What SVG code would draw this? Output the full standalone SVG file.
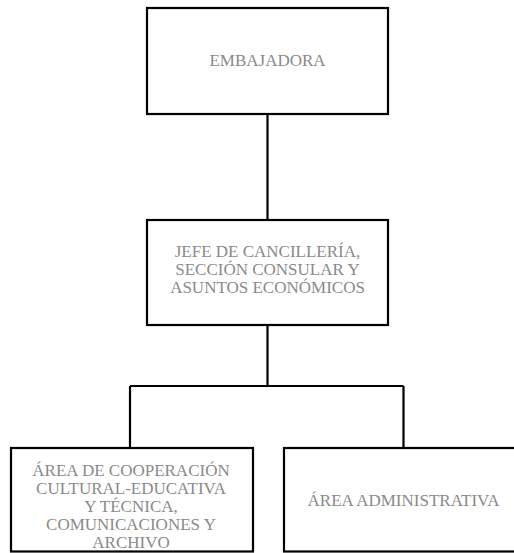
<svg xmlns="http://www.w3.org/2000/svg" width="514" height="553" viewBox="0 0 514 553">
<style>
.box{fill:#fff;stroke:#000;stroke-width:2.2}
.lbl{font-family:"Liberation Serif","Times New Roman",serif;font-size:17px;fill:#8a8a8a;text-anchor:middle}
.con{fill:none;stroke:#000;stroke-width:2.2}
</style>
<rect width="514" height="553" fill="#fff"/>
<g id="connectors">
<path class="con" d="M267.5,114 V220"/>
<path class="con" d="M267.5,325 V386 M130,386 H403.5 M130,386 V448 M403.5,386 V448"/>
</g>
<g id="embajadora">
<rect class="box" x="147" y="8" width="241" height="106"/>
<text class="lbl" x="267.5" y="66">EMBAJADORA</text>
</g>
<g id="jefe">
<rect class="box" x="147" y="220" width="241" height="105"/>
<text class="lbl" x="267.5" y="257">JEFE DE CANCILLERÍA,</text>
<text class="lbl" x="267.5" y="275">SECCIÓN CONSULAR Y</text>
<text class="lbl" x="267.5" y="293">ASUNTOS ECONÓMICOS</text>
</g>
<g id="cooperacion">
<rect class="box" x="11" y="448" width="242" height="103.5"/>
<text class="lbl" x="131" y="476">ÁREA DE COOPERACIÓN</text>
<text class="lbl" x="131" y="494">CULTURAL-EDUCATIVA</text>
<text class="lbl" x="131" y="512">Y TÉCNICA,</text>
<text class="lbl" x="131" y="530">COMUNICACIONES Y</text>
<text class="lbl" x="131" y="548">ARCHIVO</text>
</g>
<g id="administrativa">
<rect class="box" x="284" y="448" width="240" height="103.5"/>
<text class="lbl" x="403.5" y="506">ÁREA ADMINISTRATIVA</text>
</g>
</svg>
